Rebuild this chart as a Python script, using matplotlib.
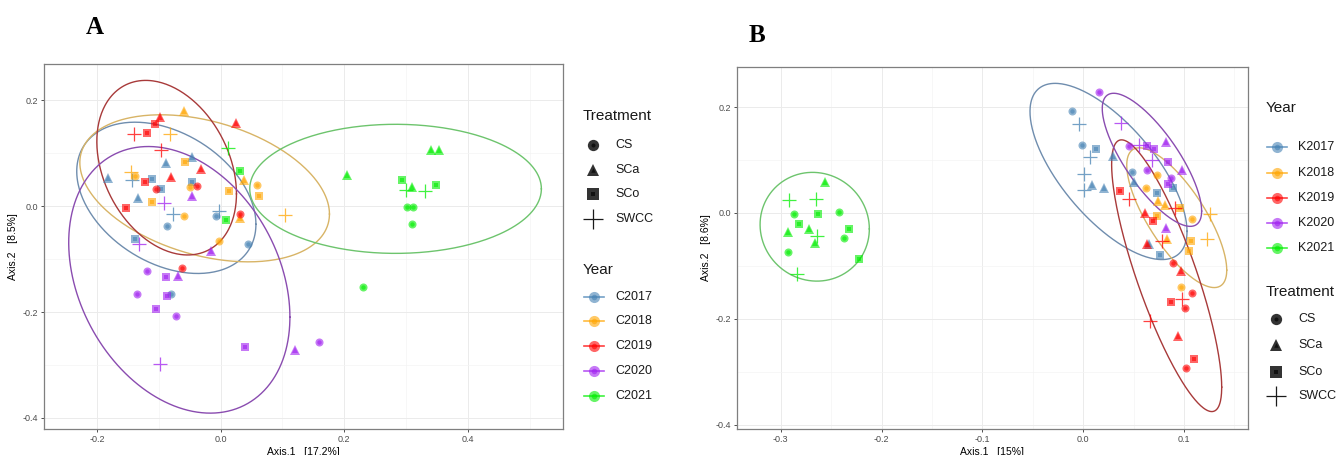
import numpy as np
import matplotlib.pyplot as plt

plt.rcParams['font.family'] = ['Liberation Sans', 'DejaVu Sans']
plt.rcParams['axes.unicode_minus'] = False

# ---- shared styling data ----
year_colors = ['#4682B4', '#FFA500', '#FF0000', '#A020F0', '#00EE00']
ell_colors = ['#6F8DAE', '#D8B466', '#A83A3A', '#8A4CB0', '#6DC46D']
treatments = ['CS', 'SCa', 'SCo', 'SWCC']
markers = {'CS': 'o', 'SCa': '^', 'SCo': 's', 'SWCC': '+'}
msize = {'CS': 5.8, 'SCa': 6.6, 'SCo': 5.8, 'SWCC': 10}

# ---- panel A (C years) ----
a_years = ['C2017', 'C2018', 'C2019', 'C2020', 'C2021']
a_x = [-0.182, -0.089, -0.047, -0.134, -0.143, -0.111, -0.096, -0.047, -0.077, -0.087, -0.003, -0.008, -0.139, 0.044, -0.081,
       -0.059, -0.082, -0.058, -0.145, -0.138, -0.049, 0.037, 0.059, 0.013, 0.062, -0.111, -0.059, 0.031, 0.104, -0.003,
       -0.140, -0.120, -0.107, -0.098, 0.025, -0.097, -0.032, -0.123, -0.081, -0.105, -0.039, -0.153, 0.031, -0.062,
       -0.047, -0.091, -0.132, -0.016, -0.119, -0.088, -0.069, -0.136, -0.087, -0.105, -0.072, -0.099, 0.040, 0.121, 0.159,
       0.011, 0.032, 0.008, 0.205, 0.341, 0.354, 0.293, 0.309, 0.300, 0.330, 0.349, 0.301, 0.311, 0.309, 0.231]
a_y = [0.054, 0.081, 0.093, 0.015, 0.050, 0.052, 0.032, 0.045, -0.014, -0.037, -0.009, -0.019, -0.061, -0.072, -0.166,
       0.180, 0.136, 0.084, 0.065, 0.057, 0.037, 0.050, 0.041, 0.028, 0.020, 0.009, -0.019, -0.023, -0.017, -0.066,
       0.137, 0.139, 0.155, 0.168, 0.158, 0.107, 0.071, 0.045, 0.055, 0.033, 0.038, -0.004, -0.015, -0.117,
       0.019, 0.006, -0.071, -0.085, -0.122, -0.133, -0.132, -0.166, -0.170, -0.194, -0.207, -0.299, -0.266, -0.271, -0.256,
       0.111, 0.066, -0.026, 0.059, 0.106, 0.106, 0.050, 0.037, 0.030, 0.028, 0.040, -0.001, -0.001, -0.034, -0.153]
a_year = [0] * 15 + [1] * 15 + [2] * 14 + [3] * 15 + [4] * 15
a_trt = ['SCa', 'SCa', 'SCa', 'SCa', 'SWCC', 'SCo', 'SCo', 'SCo', 'SWCC', 'CS', 'SWCC', 'CS', 'SCo', 'CS', 'CS',
         'SCa', 'SWCC', 'SCo', 'SWCC', 'CS', 'CS', 'SCa', 'CS', 'SCo', 'SCo', 'SCo', 'CS', 'SCa', 'SWCC', 'CS',
         'SWCC', 'SCo', 'SCo', 'SCa', 'SCa', 'SWCC', 'SCa', 'SCo', 'SCa', 'CS', 'CS', 'SCo', 'CS', 'CS',
         'SCa', 'SWCC', 'SWCC', 'SCa', 'CS', 'SCo', 'SCa', 'CS', 'SCo', 'SCo', 'CS', 'SWCC', 'SCo', 'SCa', 'CS',
         'SWCC', 'SCo', 'SCo', 'SCa', 'SCa', 'SCa', 'SCo', 'SCa', 'SWCC', 'SWCC', 'SCo', 'CS', 'CS', 'CS', 'CS']
# ellipse: centre x, centre y, half x-extent, half y-extent, correlation
a_ell_cx = [-0.088, -0.026, -0.0875, -0.067, 0.283]
a_ell_cy = [0.016, 0.034, 0.073, -0.139, 0.033]
a_ell_hx = [0.145, 0.202, 0.113, 0.179, 0.236]
a_ell_hy = [0.143, 0.139, 0.165, 0.252, 0.122]
a_ell_r = [-0.35, -0.35, -0.30, -0.28, 0.0]

# ---- panel B (K years) ----
b_years = ['K2017', 'K2018', 'K2019', 'K2020', 'K2021']
b_x = [-0.011, -0.004, -0.001, 0.013, 0.007, 0.030, 0.001, 0.009, 0.021, 0.001, 0.049, 0.050, 0.089, 0.073, 0.065, 0.076,
       0.073, 0.062, 0.074, 0.081, 0.096, 0.126, 0.073, 0.108, 0.123, 0.083, 0.107, 0.105, 0.097,
       0.037, 0.046, 0.091, 0.061, 0.069, 0.078, 0.063, 0.089, 0.097, 0.108, 0.087, 0.098, 0.101, 0.066, 0.094, 0.110, 0.102,
       0.016, 0.038, 0.046, 0.055, 0.063, 0.070, 0.082, 0.068, 0.084, 0.098, 0.063, 0.087, 0.084, 0.082,
       -0.2915, -0.265, -0.256, -0.2865, -0.2627, -0.242, -0.2815, -0.2925, -0.272, -0.2643, -0.266, -0.232, -0.237, -0.2925, -0.222, -0.2835]
b_y = [0.193, 0.168, 0.129, 0.121, 0.105, 0.107, 0.074, 0.053, 0.047, 0.043, 0.078, 0.058, 0.047, 0.038, -0.058, -0.079,
       0.072, 0.048, 0.022, 0.016, 0.009, -0.001, -0.005, -0.011, -0.049, -0.049, -0.052, -0.072, -0.140,
       0.041, 0.026, 0.009, 0.000, -0.016, -0.052, -0.058, -0.094, -0.110, -0.151, -0.168, -0.163, -0.179, -0.204, -0.233, -0.275, -0.293,
       0.229, 0.170, 0.127, 0.129, 0.127, 0.121, 0.134, 0.100, 0.096, 0.082, 0.082, 0.066, 0.055, -0.028,
       0.025, 0.026, 0.058, -0.002, -0.002, 0.001, -0.020, -0.035, -0.031, -0.044, -0.057, -0.031, -0.047, -0.073, -0.086, -0.115]
b_year = [0] * 16 + [1] * 13 + [2] * 17 + [3] * 14 + [4] * 16
b_trt = ['CS', 'SWCC', 'CS', 'SCo', 'SWCC', 'SCa', 'SWCC', 'SCa', 'SCa', 'SWCC', 'CS', 'SCa', 'SCo', 'SCo', 'SCa', 'SCo',
         'CS', 'CS', 'SCa', 'SCa', 'SCo', 'SWCC', 'SCo', 'CS', 'SWCC', 'SCa', 'SCo', 'SCo', 'CS',
         'SCo', 'SWCC', 'SWCC', 'SCa', 'SCo', 'SWCC', 'SCa', 'CS', 'SCa', 'CS', 'SCo', 'SWCC', 'CS', 'SWCC', 'SCa', 'SCo', 'CS',
         'CS', 'SWCC', 'CS', 'SWCC', 'SCo', 'SCo', 'SCa', 'SWCC', 'SCo', 'SCa', 'CS', 'CS', 'SCo', 'SCa',
         'SWCC', 'SWCC', 'SCa', 'CS', 'SCo', 'CS', 'SCo', 'SCa', 'SCa', 'SWCC', 'SCa', 'SCo', 'CS', 'CS', 'SCo', 'SWCC']
b_ell_cx = [0.0252, 0.0929, 0.0829, 0.0683, -0.2663]
b_ell_cy = [0.0784, -0.0089, -0.1185, 0.1004, -0.026]
b_ell_hx = [0.0779, 0.0496, 0.0546, 0.0493, 0.0542]
b_ell_hy = [0.1664, 0.132, 0.2566, 0.1257, 0.1027]
b_ell_r = [-0.68, -0.75, -0.82, -0.77, -0.04]


def draw_point(ax, x, y, color, trt):
    m = markers[trt]
    s = msize[trt]
    if trt == 'SWCC':
        ax.plot(x, y, m, color=color, ms=s, mew=0.9, alpha=0.75, zorder=3)
    else:
        ax.plot(x, y, m, color=color, ms=s, mew=0, alpha=0.6, zorder=3)
        ax.plot(x, y, m, color=color, ms=s * 0.55, mew=0, alpha=0.6, zorder=3)


def draw_panel(ax, xs, ys, yr, trt, ecx, ecy, ehx, ehy, er,
               xlim, ylim, xticks, yticks, xminor, yminor, xlabel, ylabel):
    for x, y, k, t in zip(xs, ys, yr, trt):
        draw_point(ax, x, y, year_colors[k], t)
    tt = np.linspace(0, 2 * np.pi, 300)
    for k in range(5):
        ex = ecx[k] + ehx[k] * np.cos(tt)
        ey = ecy[k] + ehy[k] * (er[k] * np.cos(tt) + np.sqrt(1 - er[k] ** 2) * np.sin(tt))
        ax.plot(ex, ey, color=ell_colors[k], lw=1.0, zorder=2)
    ax.set_xticks(xticks)
    ax.set_yticks(yticks)
    ax.set_xticks(xminor, minor=True)
    ax.set_yticks(yminor, minor=True)
    ax.set_xlim(xlim)
    ax.set_ylim(ylim)
    ax.grid(True, which='major', color='#EBEBEB', lw=0.7)
    ax.grid(True, which='minor', color='#F4F4F4', lw=0.5)
    ax.set_axisbelow(True)
    ax.tick_params(which='major', labelsize=6.5, labelcolor='#4D4D4D', color='#333333', length=2.5, width=0.6, pad=2)
    ax.tick_params(which='minor', length=0)
    for sp in ax.spines.values():
        sp.set_color('#7F7F7F')
        sp.set_linewidth(0.9)
    ax.set_xlabel(xlabel, fontsize=7.5, labelpad=2)
    ax.set_ylabel(ylabel, fontsize=7.5, labelpad=3)


fig = plt.figure(figsize=(13.43, 4.55), dpi=100)
W, H = 1343, 455
axA = fig.add_axes([44 / W, 1 - 429 / H, (563 - 44) / W, (429 - 64) / H])
axB = fig.add_axes([737 / W, 1 - 429 / H, (1248 - 737) / W, (429 - 67) / H])

draw_panel(axA, a_x, a_y, a_year, a_trt, a_ell_cx, a_ell_cy, a_ell_hx, a_ell_hy, a_ell_r,
           (-0.286, 0.554), (-0.421, 0.269), [-0.2, 0.0, 0.2, 0.4], [-0.4, -0.2, 0.0, 0.2],
           [-0.1, 0.1, 0.3, 0.5], [-0.3, -0.1, 0.1],
           'Axis.1   [17.2%]', 'Axis.2   [8.5%]')

draw_panel(axB, b_x, b_y, b_year, b_trt, b_ell_cx, b_ell_cy, b_ell_hx, b_ell_hy, b_ell_r,
           (-0.3434, 0.1636), (-0.408, 0.2757), [-0.3, -0.2, -0.1, 0.0, 0.1], [-0.4, -0.2, 0.0, 0.2],
           [-0.25, -0.15, -0.05, 0.05, 0.15], [-0.3, -0.1, 0.1],
           'Axis.1   [15%]', 'Axis.2   [8.6%]')

# ---- legends (overlay in pixel coordinates) ----
lg = fig.add_axes([0, 0, 1, 1])
lg.set_xlim(0, W)
lg.set_ylim(H, 0)
lg.axis('off')


def trt_legend(x0, ytitle, ys):
    lg.text(x0, ytitle, 'Treatment', fontsize=11, va='center', ha='left', color='#1A1A1A')
    for t, y in zip(treatments, ys):
        if t == 'SWCC':
            lg.plot(x0 + 10, y, '+', color='#1A1A1A', ms=14, mew=0.9)
        else:
            lg.plot(x0 + 10, y, markers[t], color='#333333', ms=msize[t] * 1.4, mew=0)
            lg.plot(x0 + 10, y, markers[t], color='#111111', ms=msize[t] * 0.5, mew=0)
        lg.text(x0 + 32, y, t, fontsize=9, va='center', ha='left', color='#1A1A1A')


def year_legend(x0, ytitle, ys, names):
    lg.text(x0, ytitle, 'Year', fontsize=11, va='center', ha='left', color='#1A1A1A')
    for k, (nm, y) in enumerate(zip(names, ys)):
        lg.plot([x0 + 1, x0 + 21], [y, y], color=year_colors[k], lw=1.2, alpha=0.75)
        lg.plot(x0 + 11, y, 'o', color=year_colors[k], ms=8, mew=0, alpha=0.6)
        lg.plot(x0 + 11, y, 'o', color=year_colors[k], ms=4, mew=0, alpha=0.6)
        lg.text(x0 + 32, y, nm, fontsize=9, va='center', ha='left', color='#1A1A1A')


trt_legend(583, 116, [145, 170, 194, 219])
year_legend(583, 270, [297, 321, 346, 371, 396], a_years)
year_legend(1266, 108, [147, 173, 198, 223, 248], b_years)
trt_legend(1266, 292, [319, 345, 372, 396])

fig.text(95 / W, 1 - 28 / H, 'A', fontsize=18, fontweight='bold', family='Liberation Serif', ha='center', va='center')
fig.text(757 / W, 1 - 35 / H, 'B', fontsize=18, fontweight='bold', family='Liberation Serif', ha='center', va='center')

fig.savefig('out.png', dpi=100)
